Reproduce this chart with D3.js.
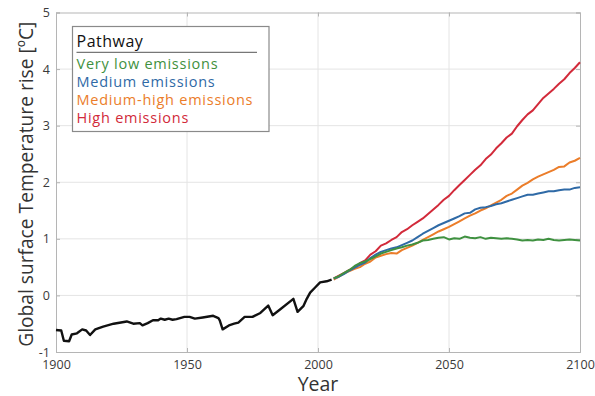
<!DOCTYPE html>
<html>
<head>
<meta charset="utf-8">
<script src="https://cdn.jsdelivr.net/npm/d3@7"></script>
<style>
  html, body { margin: 0; padding: 0; background: #fff; }
  svg { display: block; font-family: "Open Sans", "Noto Sans", sans-serif; }
</style>
</head>
<body>
<svg id="chart" width="595" height="396"></svg>
<script>
// Observed global surface temperature anomaly, 1900–2005 [ºC]
const histYears = [1900,1902,1903,1905,1906,1908,1910,1911.5,1913,1915,1918,1922,1927,1929.5,1932,1933,1935,1937,1939,1940,1941.5,1943,1944.5,1946,1949,1951,1953,1956,1960,1962,1962.5,1963.6,1966,1968,1969.6,1972,1975,1978,1981,1982.7,1985.5,1990.6,1992.2,1994.4,1995.7,1997,1998.9,2000.8,2003.3,2005.2];
const histValues = [-0.61,-0.62,-0.80,-0.81,-0.69,-0.67,-0.60,-0.62,-0.70,-0.60,-0.55,-0.50,-0.46,-0.50,-0.49,-0.53,-0.49,-0.44,-0.44,-0.41,-0.43,-0.41,-0.43,-0.42,-0.38,-0.38,-0.41,-0.39,-0.36,-0.40,-0.44,-0.60,-0.53,-0.50,-0.48,-0.38,-0.38,-0.31,-0.18,-0.35,-0.25,-0.06,-0.29,-0.19,-0.06,0.05,0.14,0.23,0.25,0.28];

// Projection years shared by all pathways
const projYears = [2006,2008,2010,2012,2014,2016,2018,2020,2022,2024,2026,2028,2030,2032,2034,2036,2038,2040,2042,2044,2046,2048,2050,2052,2054,2056,2058,2060,2062,2064,2066,2068,2070,2072,2074,2076,2078,2080,2082,2084,2086,2088,2090,2092,2094,2096,2098,2100];

const highEmissions = [0.30,0.35,0.40,0.45,0.49,0.57,0.62,0.72,0.78,0.88,0.92,0.98,1.03,1.12,1.17,1.24,1.30,1.36,1.44,1.52,1.60,1.69,1.76,1.86,1.95,2.04,2.13,2.22,2.30,2.41,2.49,2.60,2.69,2.79,2.86,2.99,3.10,3.20,3.27,3.38,3.49,3.57,3.65,3.74,3.82,3.93,4.02,4.12];
const mediumHighEmissions = [0.28,0.33,0.39,0.43,0.47,0.50,0.56,0.60,0.67,0.70,0.73,0.75,0.74,0.80,0.84,0.88,0.93,0.98,1.03,1.08,1.13,1.17,1.21,1.26,1.31,1.36,1.41,1.45,1.50,1.54,1.59,1.64,1.69,1.76,1.80,1.87,1.94,1.99,2.05,2.10,2.14,2.18,2.22,2.27,2.28,2.35,2.38,2.43];
const mediumEmissions = [0.30,0.33,0.38,0.44,0.49,0.54,0.58,0.66,0.72,0.77,0.80,0.83,0.85,0.89,0.93,0.97,1.03,1.09,1.14,1.19,1.24,1.28,1.32,1.36,1.40,1.45,1.46,1.52,1.55,1.56,1.58,1.61,1.63,1.66,1.69,1.72,1.75,1.78,1.78,1.80,1.82,1.84,1.84,1.86,1.87,1.87,1.90,1.91];
const veryLowEmissions = [0.30,0.34,0.40,0.45,0.52,0.57,0.60,0.64,0.69,0.74,0.77,0.80,0.83,0.85,0.88,0.90,0.93,0.97,0.98,1.00,1.02,1.03,0.99,1.01,1.00,1.04,1.02,1.01,1.03,1.00,1.02,1.01,1.00,1.01,1.00,0.99,0.97,0.98,0.97,0.99,0.98,1.00,0.98,0.97,0.98,0.99,0.98,0.97];

const pathwayNames = ["Very low emissions", "Medium emissions", "Medium-high emissions", "High emissions"];
const pathwayColors = ["#3f9140", "#2f6aa6", "#eb7d2a", "#d22a3a"];
const pathwayValues = [veryLowEmissions, mediumEmissions, mediumHighEmissions, highEmissions];

const xTicks = [1900, 1950, 2000, 2050, 2100];
const yTicks = [-1, 0, 1, 2, 3, 4, 5];

const svg = d3.select("#chart");
const m = { left: 56, right: 15, top: 12.5, bottom: 44 };
const W = 595, H = 396;
const x = d3.scaleLinear().domain([1900, 2100]).range([m.left, W - m.right]);
const y = d3.scaleLinear().domain([-1, 5]).range([H - m.bottom, m.top]);

// Grid lines
const grid = svg.append("g").attr("stroke", "#e4e4e4").attr("stroke-width", 1);
grid.selectAll(".gx").data(xTicks.slice(1, -1)).join("line")
  .attr("x1", d => x(d)).attr("x2", d => x(d)).attr("y1", y(-1)).attr("y2", y(5));
grid.selectAll(".gy").data(yTicks.slice(1, -1)).join("line")
  .attr("x1", x(1900)).attr("x2", x(2100)).attr("y1", d => y(d)).attr("y2", d => y(d));

// Axes with inward ticks on all four sides
const axisColor = "#b5b5b5";
const fmt = d => String(d);
const xAxis = svg.append("g").attr("transform", `translate(0,${y(-1)})`)
  .call(d3.axisBottom(x).tickValues(xTicks).tickFormat(fmt).tickSize(-4).tickPadding(8.5));
const xAxisTop = svg.append("g").attr("transform", `translate(0,${y(5)})`)
  .call(d3.axisTop(x).tickValues(xTicks).tickSize(-4).tickFormat(""));
const yAxis = svg.append("g").attr("transform", `translate(${x(1900)},0)`)
  .call(d3.axisLeft(y).tickValues(yTicks).tickFormat(fmt).tickSize(-4).tickPadding(6));
const yAxisRight = svg.append("g").attr("transform", `translate(${x(2100)},0)`)
  .call(d3.axisRight(y).tickValues(yTicks).tickSize(-4).tickFormat(""));
[xAxis, xAxisTop, yAxis, yAxisRight].forEach(g => {
  g.select(".domain").attr("stroke", axisColor);
  g.selectAll(".tick line").attr("stroke", axisColor);
  g.selectAll(".tick text").attr("fill", "#3a3a3a").style("font-size", "12.5px")
    .style("font-family", "'Open Sans', sans-serif");
});

// Projection lines
const line = d3.line().x(d => x(d[0])).y(d => y(d[1]));
const drawOrder = [3, 2, 1, 0];
drawOrder.forEach(i => {
  svg.append("path")
    .datum(projYears.map((yr, k) => [yr, pathwayValues[i][k]]))
    .attr("fill", "none").attr("stroke", pathwayColors[i])
    .attr("stroke-width", 2).attr("stroke-linejoin", "round")
    .attr("d", line);
});

// Observed record
svg.append("path")
  .datum(histYears.map((yr, k) => [yr, histValues[k]]))
  .attr("fill", "none").attr("stroke", "#111").attr("stroke-width", 2.4)
  .attr("stroke-linejoin", "round").attr("d", line);

// Axis titles
svg.append("text").attr("x", x(2000)).attr("y", 390.5).attr("text-anchor", "middle")
  .attr("fill", "#333").style("font-size", "19.5px").text("Year");
svg.append("text").attr("transform", `translate(33,${(y(-1) + y(5)) / 2 + 2}) rotate(-90)`)
  .attr("text-anchor", "middle").attr("fill", "#333").style("font-size", "19.2px")
  .text("Global surface Temperature rise [ºC]");

// Legend
const lg = svg.append("g");
lg.append("rect").attr("x", 72.5).attr("y", 26.5).attr("width", 196.5).attr("height", 105)
  .attr("fill", "#fff").attr("stroke", "#8a8a8a").attr("stroke-width", 1.2);
lg.append("text").attr("x", 76.5).attr("y", 46.5).attr("fill", "#111")
  .style("font-size", "16px").style("letter-spacing", "0.5px").text("Pathway");
lg.append("line").attr("x1", 76.5).attr("x2", 257).attr("y1", 52.3).attr("y2", 52.3)
  .attr("stroke", "#777").attr("stroke-width", 1.2);
lg.selectAll(".entry").data(pathwayNames).join("text")
  .attr("x", 76.5).attr("y", (d, i) => 69 + i * 18)
  .attr("fill", (d, i) => pathwayColors[i])
  .style("font-size", "14.5px").style("letter-spacing", "0.75px").text(d => d);
</script>
</body>
</html>
